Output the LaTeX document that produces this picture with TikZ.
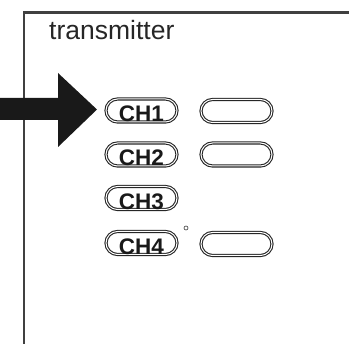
\documentclass[tikz,border=0pt]{standalone}
\usepackage{fontspec}
\setmainfont{Liberation Sans}
\usetikzlibrary{positioning}

\tikzset{
    frameline/.style={draw=black!75, line width=2.2pt},
    button/.style={draw=black!85, line width=1.1pt, double=white, double distance=1pt,
        rectangle, rounded corners=11.5pt, minimum width=71pt, minimum height=23pt, inner sep=0pt},
    chlabel/.style={font=\fontsize{22.5}{25}\selectfont\bfseries, inner sep=0pt, text=black!90}
}

\begin{document}
\begin{tikzpicture}[x=1pt, y=-1pt]
    \useasboundingbox (0,0) rectangle (349,344);

    % Frame of the transmitter
    \coordinate (fbot) at (24,344);
    \coordinate (fcorner) at (24,12.5);
    \coordinate (fright) at (349,12.5);
    \draw[frameline] (fbot) -- (fcorner) -- (fright);

    % Title
    \node[anchor=base west, inner sep=0pt, text=black!85, font=\fontsize{26.5}{30}\selectfont] (title) at (49,40) {transmitter};

    % Pointer arrow
    \fill[black!90] (0,98) -- (58,98) -- (58,73) -- (97,109.5) -- (58,147) -- (58,120) -- (0,120) -- cycle;

    % Left column of buttons
    \node[button] (ch1) at (141.5,110.5) {};
    \node[button] (ch2) at (141.5,154.5) {};
    \node[button] (ch3) at (141.5,198) {};
    \node[button] (ch4) at (141.5,243) {};
    \node[chlabel] at ([yshift=-3.5pt]ch1.center) {CH1};
    \node[chlabel] at ([yshift=-3.5pt]ch2.center) {CH2};
    \node[chlabel] at ([yshift=-3.5pt]ch3.center) {CH3};
    \node[chlabel] at ([yshift=-3.5pt]ch4.center) {CH4};

    % Right column of buttons
    \node[button] (b1) at (236.5,111) {};
    \node[button] (b2) at (236.5,154.5) {};
    \node[button] (b4) at (236.5,244) {};

    % Small dot
    \node[circle, draw=black!80, line width=0.6pt, minimum size=4pt, inner sep=0pt] (dot) at (186,228) {};
\end{tikzpicture}
\end{document}
